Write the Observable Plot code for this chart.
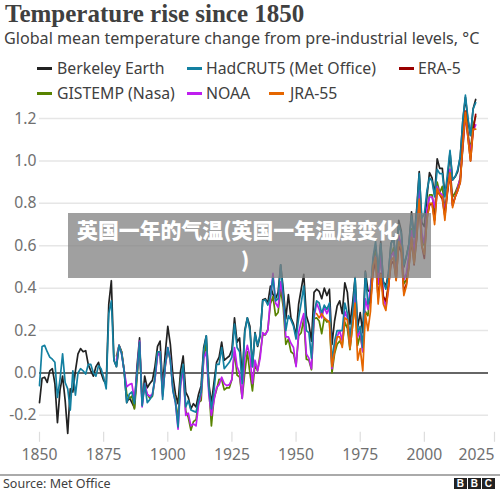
<!DOCTYPE html>
<html><head><meta charset="utf-8">
<script src="https://cdn.jsdelivr.net/npm/d3@7"></script>
<script src="https://cdn.jsdelivr.net/npm/@observablehq/plot@0.6"></script>
<style>
html,body{margin:0;padding:0;background:#fff}
#page{position:relative;width:500px;height:492px;overflow:hidden;font-family:"Noto Sans",sans-serif}
#page>div,#page>span{position:absolute;white-space:nowrap}
#chart{left:0;top:90px}
.leg{font-size:15.8px;color:#404040;line-height:20px}
.sw{width:15px;height:2.5px}
.bb{top:478px;width:12.5px;height:11px;background:#222;color:#fff;font:bold 10px/11px "Liberation Sans",sans-serif;text-align:center}
</style></head><body>
<div id="page">
<div id="chart"></div>
<div style="left:5px;top:-1px;font:bold 25px/30px 'Liberation Serif',serif;color:#404040">Temperature rise since 1850</div>
<div style="left:4px;top:27px;font-size:16.15px;line-height:22px;color:#404040">Global mean temperature change from pre-industrial levels, °C</div>
<div id="legend"></div>
<div style="left:0;top:474px;width:500px;height:1.5px;background:#aaa"></div>
<div style="left:3px;top:475px;font-size:12.5px;line-height:18px;color:#404040">Source: Met Office</div>
<div class="bb" style="left:454px">B</div><div class="bb" style="left:468px">B</div><div class="bb" style="left:482px">C</div>
<div style="left:68px;top:213px;width:363px;height:65px;background:rgba(128,128,128,.75)"></div>
<div style="left:77px;top:214px;font:900 20.9px/30px 'Noto Sans CJK SC',sans-serif;color:#fff">英国一年的气温(英国一年温度变化</div>
<div style="left:241px;top:244px;font:900 20.9px/30px 'Noto Sans CJK SC',sans-serif;color:#fff">)</div>
</div>
<script>
const xTicks=[1850,1875,1900,1925,1950,1975,2000,2025];
const yTicks=[-0.2,0,0.2,0.4,0.6,0.8,1.0,1.2];
const berkeleyStart=1850, hadcrutStart=1850, gistempStart=1880, noaaStart=1880, era5Start=1979, jraStart=1958;
const berkeley=[-.14,-.025,-.02,-.045,.01,.02,-.05,-.235,-.08,-.015,-.13,-.285,-.075,-.09,.01,.09,.115,.10,.105,.04,.01,-.015,.03,.05,0,-.035,-.055,.325,.435,.06,.03,.13,.1,.01,-.14,-.115,-.14,-.165,.03,.165,-.15,-.015,-.07,-.05,-.035,.03,.125,.15,-.065,.09,.22,.135,-.015,-.1,-.145,.01,.08,-.09,-.115,-.17,-.145,-.16,-.1,-.06,.12,.175,-.05,-.145,-.045,.05,.075,.145,.06,.07,.08,.11,.26,.145,.165,-.03,.2,.26,.22,.03,.19,.125,.175,.345,.35,.33,.41,.37,.35,.38,.51,.395,.255,.37,.26,.23,.175,.325,.395,.465,.27,.23,.15,.38,.395,.385,.35,.40,.365,.395,.135,.245,.315,.34,.28,.425,.38,.23,.325,.45,.215,.285,.19,.48,.39,.38,.53,.6,.47,.62,.43,.41,.47,.61,.64,.52,.72,.67,.5,.55,.61,.76,.64,.77,.95,.71,.69,.83,.945,.92,.84,1.01,.965,.965,.84,.91,1.04,.91,.925,.95,1.02,1.19,1.3,1.19,1.12,1.245,1.29];
const hadcrut=[-.06,.125,.13,.1,.075,.065,.05,-.115,-.03,.09,-.045,-.075,-.175,.01,-.105,0,.02,.01,-.005,.04,.04,0,-.015,.035,.02,-.02,-.075,.28,.34,.06,.03,.13,.09,.01,-.14,-.1,-.09,-.145,-.005,.145,-.155,-.05,-.14,-.125,-.105,-.02,.1,.1,-.125,.04,.12,.06,-.085,-.14,-.255,-.035,.04,-.16,-.13,-.175,-.18,-.185,-.13,-.09,.105,.175,-.075,-.17,-.085,.04,.04,.12,.02,.035,.05,.075,.23,.12,.1,-.05,.19,.26,.2,.03,.185,.13,.18,.34,.345,.32,.36,.45,.34,.35,.51,.37,.2,.27,.25,.22,.16,.26,.33,.41,.2,.19,.07,.28,.34,.33,.28,.32,.3,.33,.05,.15,.2,.2,.2,.33,.28,.17,.27,.45,.19,.22,.12,.475,.325,.365,.545,.62,.475,.61,.43,.395,.465,.61,.63,.53,.7,.66,.51,.55,.61,.74,.64,.75,.94,.73,.75,.86,.92,.905,.83,.96,.94,.94,.83,.94,1.05,.91,.925,.96,1.02,1.19,1.31,1.2,1.12,1.245,1.275];
const gistemp=[.08,.13,.1,.01,-.1,-.12,-.11,-.17,-.03,.13,-.13,-.07,-.1,-.12,-.11,-.03,.1,.09,-.1,.03,.11,.06,-.07,-.13,-.22,-.03,0,-.18,-.21,-.27,-.23,-.22,-.14,-.13,.07,.14,-.07,-.25,-.12,-.08,-.03,-.03,-.08,-.07,-.07,-.03,.1,-.01,-.02,-.12,0,.1,0,-.085,.04,.01,.09,.18,.18,.205,.325,.36,.27,.285,.395,.31,.135,.16,.1,.09,.035,.175,.19,.255,.065,.06,.015,.255,.26,.245,.185,.26,.24,.245,0,.09,.135,.15,.13,.24,.21,.11,.22,.325,.13,.18,.1,.29,.27,.39,.49,.57,.42,.57,.36,.33,.41,.55,.59,.47,.64,.6,.42,.44,.54,.68,.57,.69,.86,.63,.6,.75,.84,.84,.76,.9,.85,.88,.77,.86,.96,.83,.85,.88,.92,1.06,1.22,1.13,1.05,1.17,1.21];
const noaa=[.06,.13,.09,.01,-.065,-.055,-.05,-.13,0,.15,-.16,-.05,-.1,-.11,-.1,-.03,.08,.1,-.11,.03,.12,.06,-.08,-.14,-.265,-.06,.02,-.2,-.19,-.25,-.24,-.25,-.15,-.1,.07,.1,-.1,-.2,-.13,-.07,-.055,-.02,-.05,-.06,-.055,-.03,.12,.03,0,-.12,.07,.13,.08,-.05,.06,.01,.07,.19,.18,.2,.35,.47,.33,.31,.43,.35,.17,.17,.14,.12,.03,.19,.24,.28,.09,.07,.02,.26,.33,.3,.26,.31,.28,.31,.02,.13,.17,.2,.15,.29,.26,.13,.25,.38,.17,.2,.1,.35,.3,.41,.5,.55,.42,.56,.36,.31,.39,.55,.57,.44,.65,.6,.44,.47,.56,.67,.56,.72,.86,.66,.61,.77,.83,.83,.78,.88,.85,.84,.76,.86,.96,.79,.83,.87,.92,1.07,1.21,1.12,1.04,1.14,1.17];
const era5=[.33,.47,.53,.35,.47,.36,.34,.41,.51,.53,.44,.6,.57,.38,.42,.5,.63,.51,.63,.8,.6,.54,.73,.79,.8,.72,.86,.84,.82,.74,.85,.94,.79,.83,.86,.9,1.09,1.235,1.11,1.0,1.14,1.22];
const jra=[.28,.26,.28,.26,.25,.24,.03,.1,.17,.17,.12,.26,.25,.115,.22,.33,.06,.115,.01,.28,.2,.29,.505,.545,.325,.465,.325,.295,.4,.53,.545,.435,.62,.59,.365,.41,.505,.64,.515,.64,.82,.6,.56,.72,.8,.8,.7,.87,.84,.83,.72,.86,.945,.78,.83,.86,.9,1.08,1.23,1.11,1.0,1.15,1.15];
const legendNames=["Berkeley Earth","HadCRUT5 (Met Office)","ERA-5","GISTEMP (Nasa)","NOAA","JRA-55"];
const legendColors=["#222222","#1380a1","#990000","#588300","#bf1eef","#e56600"];
const legendSwatchX=[37,187,399,37,187,269];
const legendTextX=[57,206,418,57,206,290];
const legendRowY=[58,58,58,83,83,83];
const lg=document.getElementById("legend");
legendNames.forEach((n,i)=>{
  lg.insertAdjacentHTML("beforeend",`<div class="sw" style="position:absolute;left:${legendSwatchX[i]}px;top:${legendRowY[i]+9}px;background:${legendColors[i]}"></div><div class="leg" style="position:absolute;white-space:nowrap;left:${legendTextX[i]}px;top:${legendRowY[i]}px">${n}</div>`);
});
const ln=(arr,start,color)=>Plot.line(arr,{x:(d,i)=>start+i,y:d=>d,stroke:color,strokeWidth:1.7,curve:"linear"});
const chart=Plot.plot({
  width:500,height:380,marginLeft:39,marginRight:12,marginTop:2.6,marginBottom:38.2,
  style:{background:"transparent",fontFamily:"'Noto Sans',sans-serif",overflow:"visible"},
  x:{domain:[1850,2025]},
  y:{domain:[-0.28,1.32]},
  marks:[
    Plot.ruleY(yTicks.filter(t=>t!==0),{stroke:"#e6e6e6",strokeWidth:1.5}),
    Plot.axisY(yTicks,{tickSize:0,tickPadding:3,label:null,fontSize:15.7,color:"#707070",tickFormat:d=>d.toFixed(1)}),
    Plot.axisX(xTicks.slice(0,7),{tickSize:10,tickPadding:7,label:null,fontSize:15.7,color:"#707070",stroke:"#ddd",strokeWidth:1.2,tickFormat:d=>String(d)}),
    Plot.axisX(xTicks.slice(7),{tickSize:10,tickPadding:7,label:null,fontSize:15.7,color:"#707070",stroke:"#ddd",strokeWidth:1.2,textAnchor:"end",dx:6,tickFormat:d=>String(d)}),
    Plot.ruleY([0],{stroke:"#333",strokeWidth:1.5}),
    ln(berkeley,berkeleyStart,legendColors[0]),
    ln(gistemp,gistempStart,legendColors[3]),
    ln(noaa,noaaStart,legendColors[4]),
    ln(hadcrut,hadcrutStart,legendColors[1]),
    ln(era5,era5Start,legendColors[2]),
    ln(jra,jraStart,legendColors[5])
  ]
});
document.getElementById("chart").appendChild(chart);
</script>
</body></html>
